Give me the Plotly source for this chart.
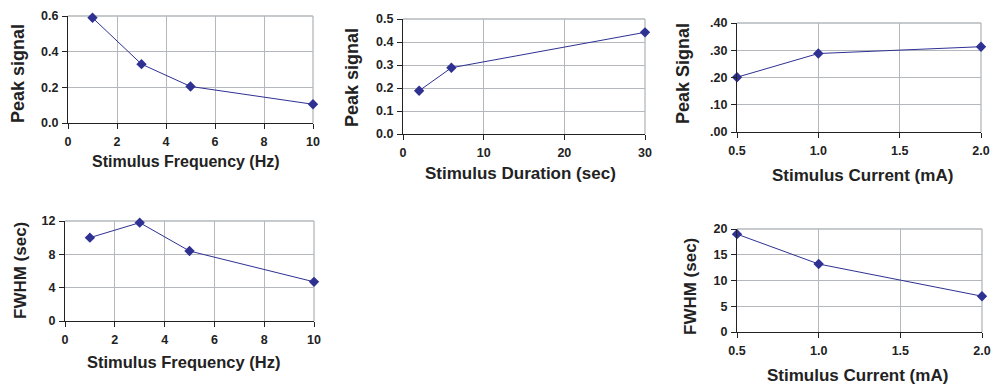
import plotly.graph_objects as go

# ---- data ----
freq_hz = [1, 3, 5, 10]
peak_vs_freq = [0.59, 0.33, 0.205, 0.105]
fwhm_vs_freq = [10.0, 11.8, 8.4, 4.7]

duration_sec = [2, 6, 30]
peak_vs_duration = [0.188, 0.288, 0.442]

current_ma = [0.5, 1.0, 2.0]
peak_vs_current = [0.201, 0.288, 0.313]
fwhm_vs_current = [19.0, 13.2, 6.95]

peak_current_ticks = [0, 0.1, 0.2, 0.3, 0.4]
peak_current_ticktext = [".00", ".10", ".20", ".30", ".40"]

LINE = "#2e3192"
GRID = "#b4b8bc"
AXIS = "#222222"
FONT = "Liberation Sans, Arial, sans-serif"

fig = go.Figure()

def add(x, y, n):
    fig.add_trace(go.Scatter(
        x=x, y=y, mode="lines+markers", xaxis="x" + ("" if n == 1 else str(n)),
        yaxis="y" + ("" if n == 1 else str(n)), cliponaxis=False,
        line=dict(color=LINE, width=1),
        marker=dict(symbol="diamond", size=8, color=LINE),
        showlegend=False))

add(freq_hz, peak_vs_freq, 1)
add(duration_sec, peak_vs_duration, 2)
add(current_ma, peak_vs_current, 3)
add(freq_hz, fwhm_vs_freq, 4)
add(current_ma, fwhm_vs_current, 5)

W, H = 992, 385
def dx(a, b):
    return [a / W, b / W]
def dy(top, bottom):
    return [1 - bottom / H, 1 - top / H]

common = dict(showgrid=True, gridcolor=GRID, gridwidth=1.3, showline=True, linecolor=AXIS,
              linewidth=1, ticks="outside", ticklen=5, tickcolor=AXIS, zeroline=False,
              tickfont=dict(family=FONT, size=12.5, color="#222222", weight="bold"),
              mirror=False, fixedrange=True, automargin=False)

layout = dict(
    width=W, height=H, margin=dict(l=0, r=0, t=0, b=0, autoexpand=False),
    paper_bgcolor="white", plot_bgcolor="white",
    font=dict(family=FONT, color="#222222"),
)

specs = [
    (1, dx(68, 313), dy(16, 123), [0, 10], dict(tickvals=[0, 2, 4, 6, 8, 10]),
     [0, 0.6], dict(tickvals=[0, 0.2, 0.4, 0.6], tickformat=".1f")),
    (2, dx(403, 645), dy(19, 134), [0, 30], dict(tickvals=[0, 10, 20, 30]),
     [0, 0.5], dict(tickvals=[0, 0.1, 0.2, 0.3, 0.4, 0.5], tickformat=".1f")),
    (3, dx(737, 981), dy(23, 132), [0.5, 2.0], dict(tickvals=[0.5, 1.0, 1.5, 2.0], tickformat=".1f"),
     [0, 0.4], dict(tickvals=peak_current_ticks, ticktext=peak_current_ticktext)),
    (4, dx(65, 314), dy(221, 321), [0, 10], dict(tickvals=[0, 2, 4, 6, 8, 10]),
     [0, 12], dict(tickvals=[0, 4, 8, 12])),
    (5, dx(737, 982), dy(229, 332), [0.5, 2.0], dict(tickvals=[0.5, 1.0, 1.5, 2.0], tickformat=".1f"),
     [0, 20], dict(tickvals=[0, 5, 10, 15, 20])),
]

for n, xd, yd, xr, xt, yr, yt in specs:
    s = "" if n == 1 else str(n)
    layout["xaxis" + s] = dict(common, domain=xd, range=xr, anchor="y" + s,
                               ticklabelstandoff=2, **xt)
    layout["yaxis" + s] = dict(common, domain=yd, range=yr, anchor="x" + s,
                               ticklabelstandoff=1, **yt)

fig.update_layout(**layout)

for n, xd, yd, *_ in specs:
    fig.add_shape(type="line", xref="paper", yref="paper", x0=xd[0], x1=xd[1], y0=yd[1], y1=yd[1],
                  line=dict(color=GRID, width=1.3), layer="below")
    fig.add_shape(type="line", xref="paper", yref="paper", x0=xd[1], x1=xd[1], y0=yd[0], y1=yd[1],
                  line=dict(color=GRID, width=1.3), layer="below")

def title(text, x, y, size, angle=0):
    fig.add_annotation(text="<b>" + text + "</b>", xref="paper", yref="paper",
                       x=x / W, y=1 - y / H, xanchor="center", yanchor="middle",
                       showarrow=False, textangle=angle,
                       font=dict(family=FONT, size=size, color="#222222"))

title("Stimulus Frequency (Hz)", 186, 162, 16)
title("Peak signal", 18, 74, 18, -90)
title("Stimulus Duration (sec)", 520, 173, 17)
title("Peak signal", 352, 78, 18, -90)
title("Stimulus Current (mA)", 862, 176, 17)
title("Peak Signal", 683, 74, 18, -90)
title("Stimulus Frequency (Hz)", 183, 362, 16.5)
title("FWHM (sec)", 20, 271, 17, -90)
title("Stimulus Current (mA)", 857, 375, 17)
title("FWHM (sec)", 690, 287, 17, -90)

fig.write_html("out.html", config={"displayModeBar": False},
               post_script="document.body.style.margin='0px';document.body.style.overflow='hidden';")
